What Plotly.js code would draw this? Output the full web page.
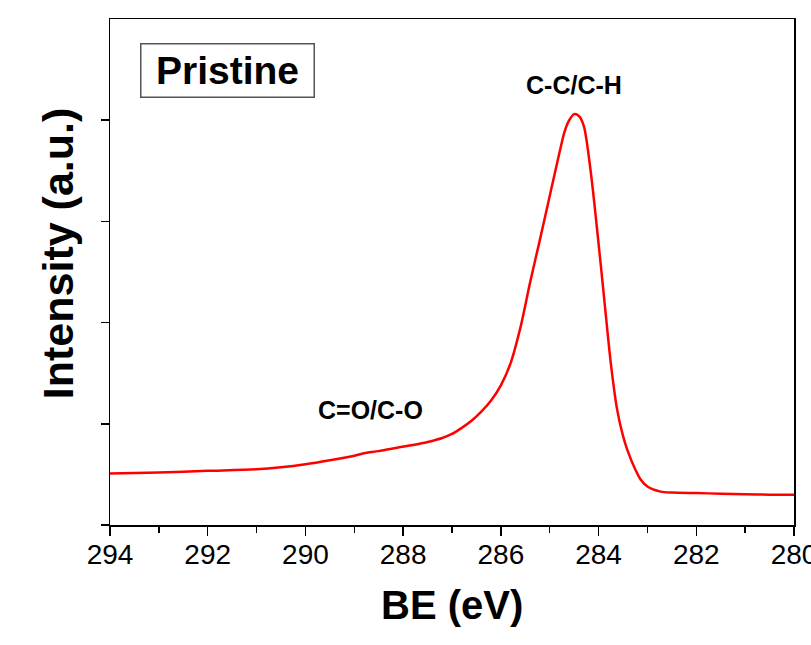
<!DOCTYPE html>
<html>
<head>
<meta charset="utf-8">
<script src="https://cdn.plot.ly/plotly-3.0.1.min.js"></script>
<style>html,body{margin:0;padding:0;background:#fff;}#chart{width:811px;height:645px;}</style>
</head>
<body>
<div id="chart"></div>
<script>
// Binding energy (eV) and intensity (a.u.)
const energy = [294.0, 293.0, 292.0, 291.0, 290.5, 290.0, 289.5, 289.0, 288.8, 288.5, 288.1, 287.8, 287.5, 287.2, 287.0, 286.8, 286.6, 286.4, 286.2, 286.0, 285.8, 285.6, 285.4, 285.2, 285.0, 284.8, 284.7, 284.6, 284.5, 284.4, 284.3, 284.16, 284.03, 283.89, 283.75, 283.62, 283.5, 283.41, 283.25, 283.14, 283.0, 282.73, 282.5, 282.0, 281.5, 281.0, 280.5, 280.0];
const intensity = [0.51, 0.52, 0.535, 0.55, 0.57, 0.60, 0.64, 0.685, 0.71, 0.73, 0.765, 0.79, 0.82, 0.86, 0.90, 0.96, 1.03, 1.12, 1.23, 1.38, 1.60, 1.95, 2.40, 2.82, 3.25, 3.68, 3.88, 4.00, 4.06, 4.04, 3.94, 3.49, 2.92, 2.26, 1.60, 1.14, 0.88, 0.74, 0.55, 0.45, 0.38, 0.33, 0.32, 0.315, 0.31, 0.305, 0.30, 0.30];
const peakLabels = ["C-C/C-H", "C=O/C-O"];
const peakLabelX = [284.5, 288.66];
const peakLabelY = [4.35, 1.14];
const sampleName = "Pristine";
const xTickVals = [294, 292, 290, 288, 286, 284, 282, 280];
const xTitle = "BE (eV)";
const yTitle = "Intensity (a.u.)";

const font = "Liberation Sans, Arial, sans-serif";
const annotations = peakLabels.map((t, i) => ({
  x: peakLabelX[i], y: peakLabelY[i], xref: 'x', yref: 'y', text: '<b>' + t + '</b>',
  showarrow: false, font: {family: font, size: 25, color: '#000'}
}));
annotations.push({
  xref: 'paper', yref: 'paper', x: 0.1725, y: 0.899, xanchor: 'center', yanchor: 'middle',
  text: '<b>' + sampleName + '</b>', showarrow: false, width: 164, height: 44,
  font: {family: font, size: 39, color: '#000'},
  bordercolor: '#555', borderwidth: 1.5, borderpad: 4, bgcolor: '#fff'
});
annotations.push({
  xref: 'paper', yref: 'paper', x: 0.5, y: -0.158, xanchor: 'center', yanchor: 'middle',
  text: '<b>' + xTitle + '</b>', showarrow: false,
  font: {family: font, size: 40, color: '#000'}
});
annotations.push({
  xref: 'paper', yref: 'paper', x: -0.075, y: 0.5366, xanchor: 'center', yanchor: 'middle',
  text: '<b>' + yTitle + '</b>', showarrow: false, textangle: -90,
  font: {family: font, size: 43, color: '#000'}
});

Plotly.newPlot('chart', [{
  x: energy, y: intensity, type: 'scatter', mode: 'lines',
  line: {color: '#ff0000', width: 2.5, shape: 'spline', smoothing: 0.8}
}], {
  width: 811, height: 645,
  margin: {l: 110, r: 17, t: 19, b: 120},
  paper_bgcolor: '#fff', plot_bgcolor: '#fff',
  showlegend: false,
  xaxis: {
    range: [294, 280], tickvals: xTickVals, ticklabeloverflow: 'allow',
    ticklabelstandoff: -5,
    ticks: 'outside', ticklen: 9, tickwidth: 1.5, tickcolor: '#000',
    minor: {dtick: 1, ticks: 'outside', ticklen: 6, tickwidth: 1.5, tickcolor: '#000'},
    showline: true, linecolor: '#000', linewidth: 1.5, mirror: true,
    showgrid: false, zeroline: false,
    tickfont: {family: font, size: 28, color: '#000'}
  },
  yaxis: {
    range: [0, 5], tickvals: [0, 1, 2, 3, 4], showticklabels: false,
    ticks: 'outside', ticklen: 8, tickwidth: 1.5, tickcolor: '#000',
    showline: true, linecolor: '#000', linewidth: 1.5, mirror: true,
    showgrid: false, zeroline: false
  },
  annotations: annotations
}, {displayModeBar: false, staticPlot: true});
</script>
</body>
</html>
